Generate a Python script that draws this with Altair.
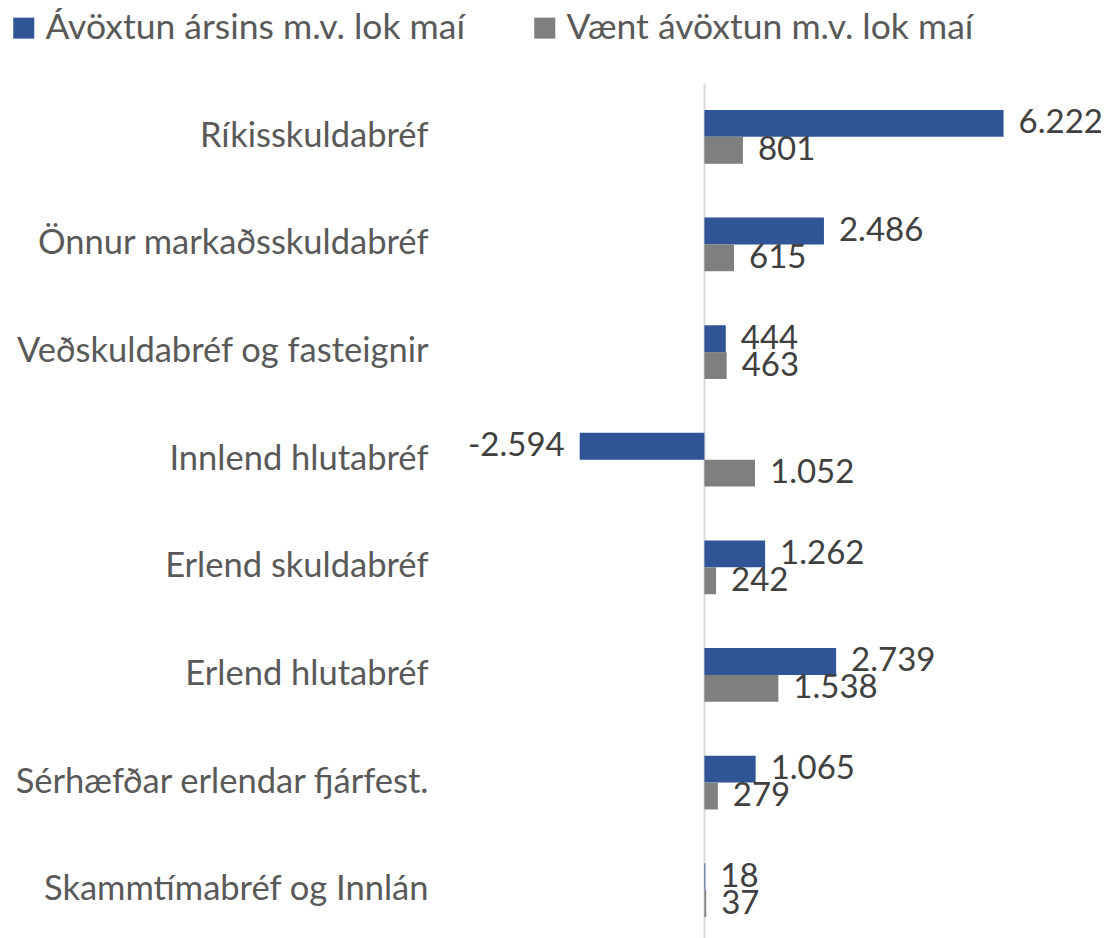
import altair as alt
import pandas as pd

categories = [
    "Ríkisskuldabréf",
    "Önnur markaðsskuldabréf",
    "Veðskuldabréf og fasteignir",
    "Innlend hlutabréf",
    "Erlend skuldabréf",
    "Erlend hlutabréf",
    "Sérhæfðar erlendar fjárfest.",
    "Skammtímabréf og Innlán",
]
series_names = ["Ávöxtun ársins m.v. lok maí", "Vænt ávöxtun m.v. lok maí"]
actual = [6222, 2486, 444, -2594, 1262, 2739, 1065, 18]
expected = [801, 615, 463, 1052, 242, 1538, 279, 37]
colors = ["#2F5597", "#7F7F7F"]

rows = []
for cat, a, e in zip(categories, actual, expected):
    for name, v in ((series_names[0], a), (series_names[1], e)):
        rows.append({
            "cat": cat,
            "series": name,
            "value": v,
            "label": f"{v:,}".replace(",", "."),
        })
df = pd.DataFrame(rows)

FONT = "Lato"
xscale = alt.Scale(domain=[-5000, 7000], nice=False, zero=True)
yscale = alt.Scale(domain=categories, paddingInner=0.5, paddingOuter=0.25)
offset = alt.YOffset("series:N", sort=series_names, scale=alt.Scale(domain=series_names, paddingInner=0, paddingOuter=0))

xaxis = alt.Axis(title=None, domain=False, ticks=False, labels=False, values=[0],
                 grid=True, gridColor="#D9D9D9", gridWidth=2)

base = alt.Chart(df).encode(
    y=alt.Y("cat:N", sort=categories, scale=yscale,
            axis=alt.Axis(title=None, domain=False, ticks=False, labelFont=FONT,
                          labelFontSize=34.5, labelColor="#595959", labelPadding=36,
                          labelLimit=500)),
    yOffset=offset,
)

bars = base.mark_bar().encode(
    x=alt.X("value:Q", scale=xscale, axis=xaxis),
    color=alt.Color("series:N", sort=series_names,
                    scale=alt.Scale(domain=series_names, range=colors),
                    legend=alt.Legend(title=None, orient="none", direction="horizontal",
                                      legendX=-458, legendY=-73, padding=0,
                                      labelFont=FONT, labelFontSize=35.5,
                                      labelColor="#595959",
                                      symbolType="square", symbolSize=441,
                                      symbolStrokeWidth=0, columnPadding=62,
                                      labelLimit=600, labelOffset=4)),
)

pos_labels = base.transform_filter("datum.value >= 0").mark_text(
    align="left", baseline="middle", dx=15, font=FONT, fontSize=33, color="#404040"
).encode(x=alt.X("value:Q", scale=xscale), text="label:N")

neg_labels = base.transform_filter("datum.value < 0").mark_text(
    align="right", baseline="middle", dx=-15, font=FONT, fontSize=33, color="#404040"
).encode(x=alt.X("value:Q", scale=xscale), text="label:N")

chart = alt.layer(bars, pos_labels, neg_labels).properties(
    width=577, height=861,
    padding={"left": 456, "top": 75, "right": 60, "bottom": 0},
    autosize=alt.AutoSizeParams(type="none"),
    background="white",
).configure_view(stroke=None)

chart.save("out.html", embed_options={"renderer": "svg", "actions": False})
